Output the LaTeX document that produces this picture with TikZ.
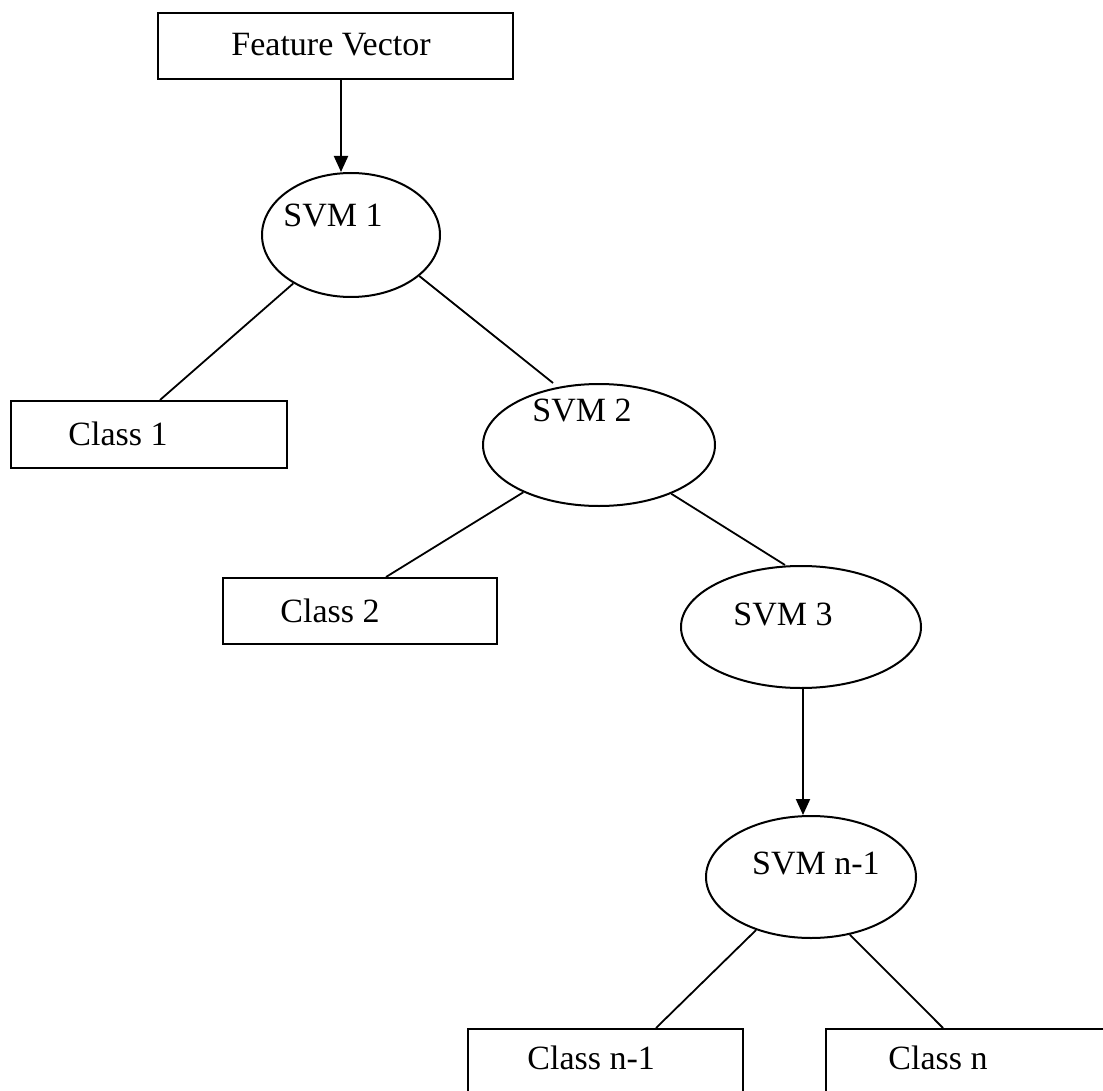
\documentclass[tikz,border=0pt]{standalone}
\usepackage{fontspec}
\setmainfont{Liberation Serif}
\usetikzlibrary{shapes.geometric,arrows.meta}

\tikzset{
  box/.style={draw, line width=1pt, rectangle, inner sep=0pt},
  svmshape/.style={draw, line width=1pt, ellipse, inner sep=0pt},
  lbl/.style={inner sep=0pt, font=\fontsize{17}{20}\selectfont},
  link/.style={line width=0.9pt},
  flow/.style={line width=1pt, -{Triangle[length=8pt,width=7pt]}}
}

\begin{document}
\begin{tikzpicture}[x=0.5pt, y=-0.5pt]
\useasboundingbox (0,0) rectangle (1103,1091);
\clip (0,0) rectangle (1103,1091);

% input box
\node[box, minimum width=177.5pt, minimum height=33pt] (fv) at (335.5,46) {};
\node[lbl] (fvt) at (331,45) {Feature Vector};

% classifier chain
\node[svmshape, minimum width=89pt, minimum height=62pt] (svm1) at (351,235) {};
\node[lbl] (svm1t) at (333,216) {SVM 1};

\node[svmshape, minimum width=116pt, minimum height=61pt] (svm2) at (599,445) {};
\node[lbl] (svm2t) at (582,410) {SVM 2};

\node[svmshape, minimum width=120pt, minimum height=61pt] (svm3) at (801,627) {};
\node[lbl] (svm3t) at (783,614) {SVM 3};

\node[svmshape, minimum width=105pt, minimum height=61pt] (svmn) at (811,877) {};
\node[lbl] (svmnt) at (816,863) {SVM n-1};

% class boxes
\node[box, minimum width=138pt, minimum height=33.5pt] (c1) at (149,434.5) {};
\node[lbl] (c1t) at (118,434) {Class 1};

\node[box, minimum width=137pt, minimum height=33pt] (c2) at (360,611) {};
\node[lbl, anchor=west] (c2t) at (280,611) {Class 2};

\node[box, minimum width=137.5pt, minimum height=50pt] (cn1) at (605.5,1079) {};
\node[lbl, anchor=west] (cn1t) at (527,1058) {Class n-1};

\node[box, minimum width=150pt, minimum height=50pt] (cn) at (976,1079) {};
\node[lbl, anchor=west] (cnt) at (888,1058) {Class n};

% connectors
\draw[flow] (fv.south -| 341,0) -- (svm1.north -| 341,0);
\draw[link] (svm1.-140) -- (c1.north -| 160,0);
\draw[link] (svm1.-31) -- (svm2.north -| 553,0);
\draw[link] (svm2.-148) -- (c2.north -| 386,0);
\draw[link] (svm2.-34) -- (svm3.north -| 785,0);
\draw[flow] (svm3.south -| 803,0) -- (svmn.north -| 803,0);
\draw[link] (svmn.-136) -- (cn1.north -| 656,0);
\draw[link] (svmn.-56) -- (cn.north -| 943,0);
\end{tikzpicture}
\end{document}
